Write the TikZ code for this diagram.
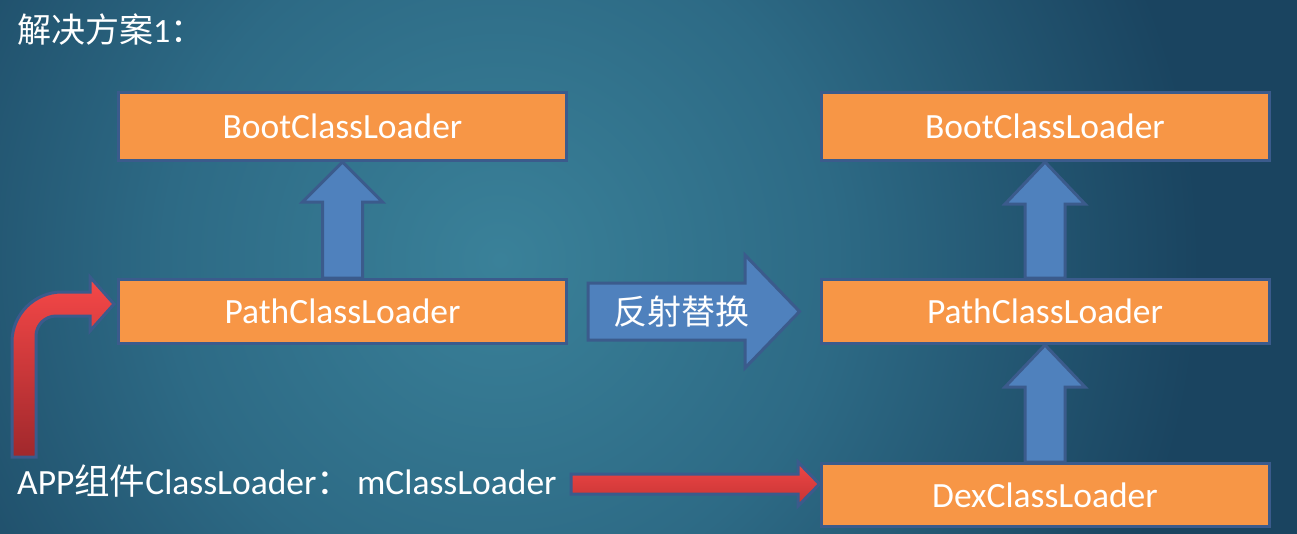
\documentclass[tikz,border=0pt]{standalone}
\usepackage{fontspec}
\setmainfont{Carlito}
\newfontfamily\cjk{Noto Sans CJK SC}
\usetikzlibrary{calc}
\definecolor{boxfill}{HTML}{F79646}
\definecolor{edge}{HTML}{3B5B8C}
\definecolor{bluefill}{HTML}{4F81BD}
\definecolor{redtop}{HTML}{F64848}
\definecolor{redbot}{HTML}{A0282C}
\definecolor{redtopb}{HTML}{F04646}
\definecolor{redbotb}{HTML}{C43434}
\definecolor{bgin}{HTML}{3A8199}
\definecolor{bgmid}{HTML}{2D6A85}
\definecolor{bgout}{HTML}{1A4460}
\pgfdeclareradialshading{bgshade}{\pgfpoint{0bp}{0bp}}{color(0bp)=(bgin); color(6bp)=(bgmid); color(12.5bp)=(bgout); color(50bp)=(bgout)}
\pgfdeclarelayer{bglayer}
\pgfdeclarelayer{arrowlayer}
\pgfsetlayers{bglayer,arrowlayer,main}
\begin{document}
\begin{tikzpicture}[x=1pt,y=-1pt,
  box/.style={draw=edge,line width=3pt,fill=boxfill,minimum width=448pt,text=white,font=\fontsize{35.5}{40}\selectfont,inner sep=0pt},
  uparr/.style={draw=edge,line width=3pt,fill=bluefill,line join=miter},
  redarr/.style={draw=edge,line width=3pt,top color=redtop,bottom color=redbot,line join=miter},
  redarrb/.style={draw=edge,line width=3pt,top color=redtopb,bottom color=redbotb,line join=miter},
  label/.style={text=white,inner sep=0pt}]
\useasboundingbox (0,0) rectangle (1297,533);
\begin{pgfonlayer}{bglayer}
\begin{scope}
\clip (0,0) rectangle (1297,533);
\path[shading=bgshade] (500,260) circle (1400);
\end{scope}
\end{pgfonlayer}

% boxes
\node[box,minimum height=68pt] (bootL) at (342.5,126.5) {BootClassLoader};
\node[box,minimum height=64pt] (pathL) at (342.5,311.5) {PathClassLoader};
\node[box,minimum height=68pt] (bootR) at (1045,126.5) {BootClassLoader};
\node[box,minimum height=64pt] (pathR) at (1045,311.5) {PathClassLoader};
\node[box,minimum height=63pt] (dexR) at (1045,495) {DexClassLoader};

% up arrows
\begin{pgfonlayer}{arrowlayer}
\draw[uparr] ($(pathL.north)+(-20,0)$) -- ($(bootL.south)+(-20,40)$) -- ($(bootL.south)+(-40,40)$) -- (bootL.south) -- ($(bootL.south)+(40,40)$) -- ($(bootL.south)+(20,40)$) -- ($(pathL.north)+(20,0)$) -- cycle;
\draw[uparr] ($(pathR.north)+(-20,0)$) -- ($(bootR.south)+(-20,42)$) -- ($(bootR.south)+(-40,42)$) -- (bootR.south) -- ($(bootR.south)+(40,42)$) -- ($(bootR.south)+(20,42)$) -- ($(pathR.north)+(20,0)$) -- cycle;
\draw[uparr] ($(dexR.north)+(-20,0)$) -- ($(pathR.south)+(-20,42)$) -- ($(pathR.south)+(-40,42)$) -- (pathR.south) -- ($(pathR.south)+(40,42)$) -- ($(pathR.south)+(20,42)$) -- ($(dexR.north)+(20,0)$) -- cycle;
\end{pgfonlayer}

% reflect arrow
\coordinate (rs) at ($(pathL.east)+(20,0)$);
\coordinate (rt) at ($(pathR.west)+(-20,0)$);
\coordinate (hb) at (745,311.5);
\draw[uparr] ($(rs)+(0,-28.5)$) -- ($(hb)+(0,-28.5)$) -- ($(hb)+(0,-56.5)$) -- (rt) -- ($(hb)+(0,56.5)$) -- ($(hb)+(0,28.5)$) -- ($(rs)+(0,28.5)$) -- cycle;
\node[label,font=\cjk\fontsize{34}{38}\selectfont] (reflect) at (681,312) {反射替换};

% red bent arrow
\coordinate (bt) at ($(pathL.west)+(-3,-7.5)$);
\draw[redarr] (12,457) -- (12,342) .. controls (12,314.4) and (34.4,292) .. (62,292) -- (90,292) -- (90,277) -- (bt) -- (90,331) -- (90,316) -- (56,316) .. controls (45,316) and (36,325) .. (36,336) -- (36,457) -- cycle;

% bottom red arrow
\coordinate (bt2) at ($(dexR.west)+(0,-11)$);
\draw[redarrb] (571,474) -- (798,474) -- (798,462) -- (bt2) -- (798,506) -- (798,494) -- (571,494) -- cycle;

% texts
\node[label,anchor=west,font=\fontsize{34}{38}\selectfont] (title) at (17,30) {{\cjk 解决方案}1{\cjk ：}};
\node[label,anchor=west,font=\fontsize{35.5}{40}\selectfont] (app) at (17,481) {APP{\cjk 组件}ClassLoader{\cjk ：}\hspace{5pt}mClassLoader};
\end{tikzpicture}
\end{document}
